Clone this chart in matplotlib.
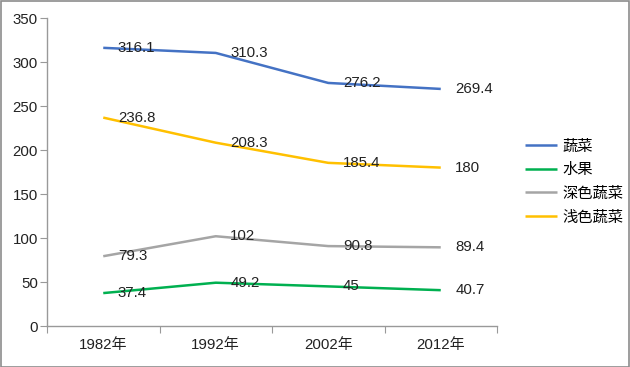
import matplotlib
matplotlib.use("Agg")
import matplotlib.pyplot as plt
from matplotlib.patches import Rectangle

plt.rcParams['font.family'] = ['Liberation Sans', 'Noto Sans CJK SC']

years = ["1982年", "1992年", "2002年", "2012年"]
series_names = ["蔬菜", "水果", "深色蔬菜", "浅色蔬菜"]
veg = [316.1, 310.3, 276.2, 269.4]
fruit = [37.4, 49.2, 45, 40.7]
dark_veg = [79.3, 102, 90.8, 89.4]
light_veg = [236.8, 208.3, 185.4, 180]
colors = ["#4472C4", "#00B050", "#A5A5A5", "#FFC000"]
label_texts = [
    ["316.1", "310.3", "276.2", "269.4"],
    ["37.4", "49.2", "45", "40.7"],
    ["79.3", "102", "90.8", "89.4"],
    ["236.8", "208.3", "185.4", "180"],
]

fig = plt.figure(figsize=(6.3, 3.67), dpi=100)
ax = fig.add_axes([47/630, 1-326/367, (497-47)/630, (326-18)/367])

xs = list(range(len(years)))
for vals, name, c, labs in zip([veg, fruit, dark_veg, light_veg], series_names, colors, label_texts):
    ax.plot(xs, vals, color=c, lw=1.8, label=name, solid_capstyle='butt')
    for x, v, t in zip(xs, vals, labs):
        ax.annotate(t, (x, v), xytext=(10.5, 0), textcoords='offset points',
                    va='center', ha='left', fontsize=10.8, color='#222222')

ax.set_xlim(-0.5, 3.5)
ax.set_ylim(0, 350)
ax.set_yticks(range(0, 351, 50))
ax.set_xticks([-0.5, 0.5, 1.5, 2.5, 3.5])
ax.set_xticklabels([])
ax.set_xticks(xs, minor=True)
ax.set_xticklabels(years, minor=True)
ax.tick_params(axis='x', which='minor', length=0, pad=9, labelsize=10.8, labelcolor='#222222')
ax.tick_params(axis='x', which='major', length=5, color='#999999', direction='out')
ax.tick_params(axis='y', length=5, color='#999999', labelsize=10.8, labelcolor='#222222', pad=1.5)
for s in ['top', 'right']:
    ax.spines[s].set_visible(False)
for s in ['left', 'bottom']:
    ax.spines[s].set_color('#999999')
    ax.spines[s].set_linewidth(1)

leg = fig.legend(loc='center left', bbox_to_anchor=(511/630, 1-182/367), frameon=False,
                 fontsize=11, handlelength=2.1, labelspacing=0.62, handletextpad=0.35)

fig.patches.append(Rectangle((0.5/630, 0.5/367), 1-1.5/630, 1-1.5/367, transform=fig.transFigure,
                             fill=False, edgecolor='#8c8c8c', lw=1.2))

fig.savefig("out.png", dpi=100)
